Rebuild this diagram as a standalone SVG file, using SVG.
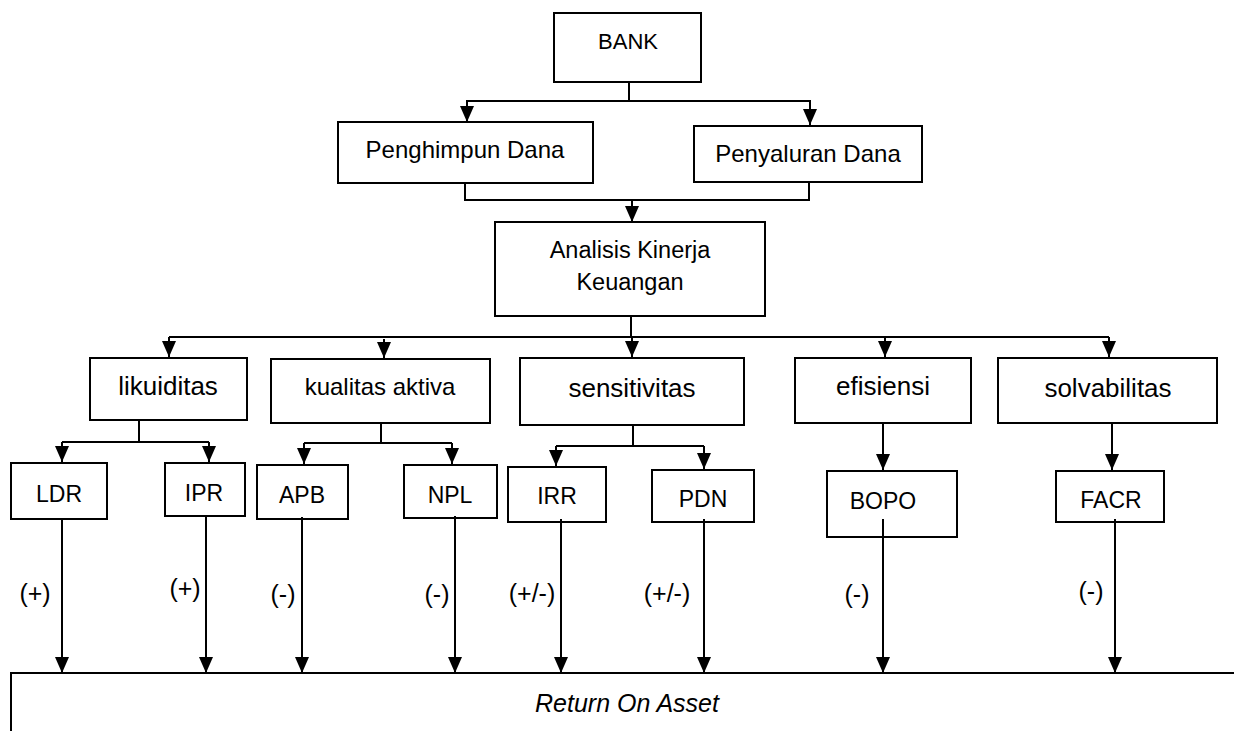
<svg xmlns="http://www.w3.org/2000/svg" width="1234" height="731" viewBox="0 0 1234 731">
<style>
.box{fill:none;stroke:#000;stroke-width:2}
.t{font-family:"Liberation Sans",Arial,sans-serif;fill:#000;text-anchor:middle}
.c{fill:none;stroke:#000;stroke-width:2}
.a{marker-end:url(#arr)}
.lbl{font-family:"Liberation Sans",Arial,sans-serif;font-size:25px;text-anchor:middle}
</style>
<defs>
<marker id="arr" viewBox="0 0 16 14" refX="16" refY="7" markerWidth="16" markerHeight="14" markerUnits="userSpaceOnUse" orient="auto">
<path d="M0,0 L16,7 L0,14 z" fill="#000"/>
</marker>
</defs>
<rect width="1234" height="731" fill="#fff"/>
<g id="connectors">
<path class="c" d="M629,83 V101"/>
<path class="c a" d="M629,101 H467 V122"/>
<path class="c a" d="M629,101 H810 V125"/>
<path class="c" d="M465,183 V200 H809 V182"/>
<path class="c a" d="M632,200 V222"/>
<path class="c" d="M631,316 V337"/>
<path class="c" d="M169,337 H1109"/>
<path class="c a" d="M169,337 V357"/>
<path class="c a" d="M384,339 V358"/>
<path class="c a" d="M632,337 V357"/>
<path class="c a" d="M885,337 V357"/>
<path class="c a" d="M1109,337 V357"/>
<path class="c" d="M139,420 V442 M62,442 H209"/>
<path class="c a" d="M62,442 V462"/>
<path class="c a" d="M209,442 V462"/>
<path class="c" d="M381,423 V443 M304,443 H452"/>
<path class="c a" d="M304,443 V464"/>
<path class="c a" d="M452,443 V464"/>
<path class="c" d="M633,425 V446 M556,446 H704"/>
<path class="c a" d="M556,446 V466"/>
<path class="c a" d="M704,446 V469"/>
<path class="c a" d="M883,423 V470"/>
<path class="c a" d="M1112,423 V470"/>
<path class="c a" d="M62,519 V673"/>
<path class="c a" d="M206,516 V673"/>
<path class="c a" d="M302,517 V673"/>
<path class="c a" d="M455,516 V673"/>
<path class="c a" d="M561,519 V673"/>
<path class="c a" d="M704,519 V673"/>
<path class="c a" d="M883,519 V673"/>
<path class="c a" d="M1115,519 V673"/>
<text class="lbl" x="35" y="602">(+)</text>
<text class="lbl" x="185" y="597">(+)</text>
<text class="lbl" x="283" y="603">(-)</text>
<text class="lbl" x="437" y="603">(-)</text>
<text class="lbl" x="532" y="602">(+/-)</text>
<text class="lbl" x="667" y="602">(+/-)</text>
<text class="lbl" x="857" y="603">(-)</text>
<text class="lbl" x="1091" y="600">(-)</text>
</g>
<g id="bank"><rect class="box" x="554" y="13" width="147" height="69"/><text class="t" x="628" y="49" font-size="22">BANK</text></g>
<g id="penghimpun"><rect class="box" x="338" y="122" width="255" height="61"/><text class="t" x="465" y="158" font-size="24">Penghimpun Dana</text></g>
<g id="penyaluran"><rect class="box" x="694" y="126" width="228" height="56"/><text class="t" x="808" y="162" font-size="24">Penyaluran Dana</text></g>
<g id="analisis"><rect class="box" x="495" y="222" width="270" height="94"/><text class="t" x="630" y="258" font-size="23.5">Analisis Kinerja</text><text class="t" x="630" y="290" font-size="23.5">Keuangan</text></g>
<g id="likuiditas"><rect class="box" x="90" y="358" width="157" height="62"/><text class="t" x="168" y="395" font-size="26">likuiditas</text></g>
<g id="kualitas"><rect class="box" x="271" y="359" width="219" height="64"/><text class="t" x="380" y="395" font-size="24">kualitas aktiva</text></g>
<g id="sensitivitas"><rect class="box" x="520" y="358" width="224" height="67"/><text class="t" x="632" y="397" font-size="26">sensitivitas</text></g>
<g id="efisiensi"><rect class="box" x="795" y="358" width="176" height="65"/><text class="t" x="883" y="395" font-size="26">efisiensi</text></g>
<g id="solvabilitas"><rect class="box" x="998" y="358" width="219" height="65"/><text class="t" x="1108" y="397" font-size="26">solvabilitas</text></g>
<g id="ldr"><rect class="box" x="11" y="463" width="96" height="56"/><text class="t" x="59" y="502" font-size="23">LDR</text></g>
<g id="ipr"><rect class="box" x="165" y="463" width="80" height="53"/><text class="t" x="204" y="501" font-size="23">IPR</text></g>
<g id="apb"><rect class="box" x="257" y="465" width="91" height="54"/><text class="t" x="302" y="503" font-size="23">APB</text></g>
<g id="npl"><rect class="box" x="404" y="465" width="93" height="53"/><text class="t" x="450" y="503" font-size="23">NPL</text></g>
<g id="irr"><rect class="box" x="508" y="467" width="98" height="55"/><text class="t" x="557" y="504" font-size="23">IRR</text></g>
<g id="pdn"><rect class="box" x="652" y="470" width="102" height="52"/><text class="t" x="703" y="507" font-size="23">PDN</text></g>
<g id="bopo"><rect class="box" x="827" y="471" width="130" height="66"/><text class="t" x="883" y="509" font-size="23">BOPO</text></g>
<g id="facr"><rect class="box" x="1056" y="471" width="108" height="51"/><text class="t" x="1111" y="508" font-size="23">FACR</text></g>
<g id="roa"><rect class="box" x="11" y="673" width="1240" height="80"/><text class="t" x="627" y="712" font-size="25" font-style="italic">Return On Asset</text></g>
</svg>
